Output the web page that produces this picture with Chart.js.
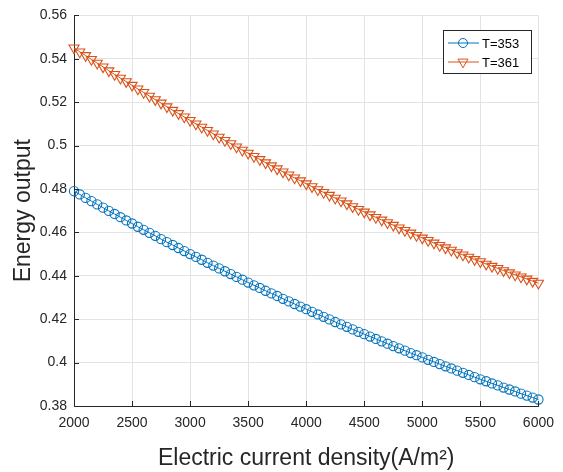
<!DOCTYPE html>
<html>
<head>
<meta charset="utf-8">
<script src="https://cdn.jsdelivr.net/npm/chart.js@4.4.1/dist/chart.umd.min.js"></script>
<style>
  html, body { margin: 0; padding: 0; background: #fff; }
  #wrap { width: 563px; height: 472px; }
</style>
</head>
<body>
<div id="wrap"><canvas id="chart" width="563" height="472"></canvas></div>
<script>
const currentDensity = [
    2000, 2050, 2100, 2150, 2200, 2250, 2300, 2350, 2400, 2450,
    2500, 2550, 2600, 2650, 2700, 2750, 2800, 2850, 2900, 2950,
    3000, 3050, 3100, 3150, 3200, 3250, 3300, 3350, 3400, 3450,
    3500, 3550, 3600, 3650, 3700, 3750, 3800, 3850, 3900, 3950,
    4000, 4050, 4100, 4150, 4200, 4250, 4300, 4350, 4400, 4450,
    4500, 4550, 4600, 4650, 4700, 4750, 4800, 4850, 4900, 4950,
    5000, 5050, 5100, 5150, 5200, 5250, 5300, 5350, 5400, 5450,
    5500, 5550, 5600, 5650, 5700, 5750, 5800, 5850, 5900, 5950,
    6000
];

const energyT353 = [
    0.4790, 0.4775, 0.4759, 0.4744, 0.4729, 0.4714, 0.4699, 0.4685, 0.4670, 0.4655,
    0.4641, 0.4626, 0.4612, 0.4598, 0.4584, 0.4569, 0.4555, 0.4542, 0.4528, 0.4514,
    0.4500, 0.4487, 0.4474, 0.4460, 0.4447, 0.4434, 0.4421, 0.4408, 0.4395, 0.4382,
    0.4369, 0.4356, 0.4344, 0.4331, 0.4319, 0.4307, 0.4294, 0.4282, 0.4270, 0.4258,
    0.4246, 0.4234, 0.4222, 0.4211, 0.4199, 0.4187, 0.4176, 0.4165, 0.4153, 0.4142,
    0.4131, 0.4120, 0.4109, 0.4098, 0.4087, 0.4076, 0.4066, 0.4055, 0.4044, 0.4034,
    0.4024, 0.4013, 0.4003, 0.3993, 0.3983, 0.3973, 0.3963, 0.3953, 0.3943, 0.3933,
    0.3923, 0.3914, 0.3904, 0.3895, 0.3885, 0.3876, 0.3867, 0.3857, 0.3848, 0.3839,
    0.3830
];

const energyT361 = [
    0.5450, 0.5432, 0.5415, 0.5397, 0.5380, 0.5363, 0.5345, 0.5328, 0.5311, 0.5295,
    0.5278, 0.5261, 0.5245, 0.5228, 0.5212, 0.5196, 0.5179, 0.5163, 0.5148, 0.5132,
    0.5116, 0.5100, 0.5085, 0.5070, 0.5054, 0.5039, 0.5024, 0.5009, 0.4994, 0.4979,
    0.4965, 0.4950, 0.4936, 0.4921, 0.4907, 0.4893, 0.4879, 0.4865, 0.4851, 0.4838,
    0.4824, 0.4811, 0.4797, 0.4784, 0.4771, 0.4758, 0.4745, 0.4732, 0.4719, 0.4706,
    0.4694, 0.4681, 0.4669, 0.4657, 0.4645, 0.4633, 0.4621, 0.4609, 0.4597, 0.4586,
    0.4574, 0.4563, 0.4551, 0.4540, 0.4529, 0.4518, 0.4507, 0.4496, 0.4486, 0.4475,
    0.4465, 0.4454, 0.4444, 0.4434, 0.4424, 0.4414, 0.4404, 0.4395, 0.4385, 0.4375,
    0.4366
];

const xTicks = [2000, 2500, 3000, 3500, 4000, 4500, 5000, 5500, 6000];
const yTicks = [0.38, 0.40, 0.42, 0.44, 0.46, 0.48, 0.50, 0.52, 0.54, 0.56];
const seriesLabels = ["T=353", "T=361"];

const axisColor = "#262626";
const gridColor = "#e3e3e3";
const fontFamily = '"Liberation Sans", Arial, Helvetica, sans-serif';

Chart.defaults.font.family = fontFamily;

function toPoints(xs, ys) {
    return xs.map((x, i) => ({ x: x, y: ys[i] }));
}

// matlab style: ticks point into the plot
const innerTicks = {
    id: "innerTicks",
    afterDatasetsDraw(chart) {
        const ctx = chart.ctx;
        const area = chart.chartArea;
        const xs = chart.scales.x;
        const ys = chart.scales.y;
        ctx.save();
        ctx.strokeStyle = axisColor;
        ctx.lineWidth = 1;
        ctx.beginPath();
        xTicks.forEach((v) => {
            const px = Math.round(xs.getPixelForValue(v)) + 0.5;
            ctx.moveTo(px, area.bottom);
            ctx.lineTo(px, area.bottom - 5);
        });
        yTicks.forEach((v) => {
            const py = Math.round(ys.getPixelForValue(v)) + 0.5;
            ctx.moveTo(area.left, py);
            ctx.lineTo(area.left + 5, py);
        });
        ctx.stroke();
        ctx.restore();
    },
};

function drawMarker(ctx, style, x, y) {
    ctx.beginPath();
    if (style === "circle") {
        ctx.arc(x, y, 4.5, 0, Math.PI * 2);
    } else {
        const r = 5.8;
        ctx.moveTo(x, y + r);
        ctx.lineTo(x - r * 0.866, y - r / 2);
        ctx.lineTo(x + r * 0.866, y - r / 2);
        ctx.closePath();
    }
    ctx.stroke();
}

// legend box in the upper right corner
const boxLegend = {
    id: "boxLegend",
    afterDraw(chart) {
        const ctx = chart.ctx;
        const left = 443, top = 30, w = 88, h = 43;
        ctx.save();
        ctx.fillStyle = "#fff";
        ctx.fillRect(left, top, w, h);
        ctx.strokeStyle = axisColor;
        ctx.lineWidth = 1;
        ctx.strokeRect(left + 0.5, top + 0.5, w, h);

        chart.data.datasets.forEach((ds, i) => {
            const y = top + 13 + i * 19;
            ctx.strokeStyle = ds.borderColor;
            ctx.lineWidth = 1;
            ctx.beginPath();
            ctx.moveTo(left + 5, y);
            ctx.lineTo(left + 36, y);
            ctx.stroke();
            drawMarker(ctx, ds.pointStyle, left + 20, y);
            ctx.fillStyle = "#000";
            ctx.font = "13px " + fontFamily;
            ctx.textBaseline = "middle";
            ctx.textAlign = "left";
            ctx.fillText(ds.label, left + 39, y + 1);
        });
        ctx.restore();
    },
};

new Chart(document.getElementById("chart"), {
    type: "line",
    data: {
        datasets: [
            {
                label: seriesLabels[0],
                data: toPoints(currentDensity, energyT353),
                borderColor: "#0072BD",
                backgroundColor: "rgba(0,0,0,0)",
                borderWidth: 1,
                pointStyle: "circle",
                pointRadius: 4.6,
                pointBorderWidth: 1.1,
                pointBackgroundColor: "rgba(0,0,0,0)",
                pointBorderColor: "#0072BD",
                clip: false,
            },
            {
                label: seriesLabels[1],
                data: toPoints(currentDensity, energyT361),
                borderColor: "#D95319",
                backgroundColor: "rgba(0,0,0,0)",
                borderWidth: 1,
                pointStyle: "triangle",
                pointRotation: 180,
                pointRadius: 5.8,
                pointBorderWidth: 1.1,
                pointBackgroundColor: "rgba(0,0,0,0)",
                pointBorderColor: "#D95319",
                clip: false,
            },
        ],
    },
    options: {
        responsive: false,
        animation: false,
        layout: { padding: { top: 15, right: 24, left: 0, bottom: 0 } },
        plugins: { legend: { display: false }, tooltip: { enabled: false } },
        scales: {
            x: {
                type: "linear",
                min: 2000,
                max: 6000,
                afterBuildTicks: (s) => { s.ticks = xTicks.map((v) => ({ value: v })); },
                afterFit: (s) => { s.height = 66; },
                grid: { color: gridColor, drawTicks: false },
                border: { color: axisColor, width: 1 },
                ticks: {
                    color: axisColor,
                    font: { size: 14 },
                    padding: 9,
                    maxRotation: 0,
                    callback: (v) => String(v),
                },
                title: {
                    display: true,
                    text: "Electric current density(A/m²)",
                    color: axisColor,
                    font: { size: 23 },
                    padding: { top: 0, bottom: 0 },
                },
            },
            y: {
                min: 0.38,
                max: 0.56,
                afterBuildTicks: (s) => { s.ticks = yTicks.map((v) => ({ value: v })); },
                afterFit: (s) => { s.width = 74; },
                grid: { color: gridColor, drawTicks: false },
                border: { color: axisColor, width: 1 },
                ticks: {
                    color: axisColor,
                    font: { size: 14 },
                    padding: 7,
                    callback: (v) => String(Number(v.toFixed(2))),
                },
                title: {
                    display: true,
                    text: "Energy output",
                    color: axisColor,
                    font: { size: 23 },
                    padding: { top: 10, bottom: 0 },
                },
            },
        },
    },
    plugins: [innerTicks, boxLegend],
});
</script>
</body>
</html>
